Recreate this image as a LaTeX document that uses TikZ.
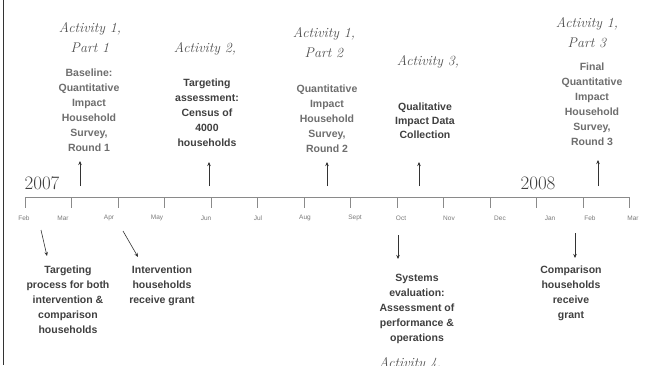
\documentclass[tikz,border=0pt]{standalone}
\usepackage{fontspec}
\newfontfamily\lsans{Liberation Sans}
\usetikzlibrary{arrows.meta}
\definecolor{txtA}{HTML}{6E6E6E}
\definecolor{txtB}{HTML}{404040}
\definecolor{actc}{HTML}{505050}
\definecolor{axisc}{HTML}{8A8A8A}
\definecolor{monc}{HTML}{7A7A7A}
\definecolor{arrc}{HTML}{333333}
\tikzset{
  act/.style={font=\fontsize{14}{20}\selectfont\itshape, text=actc, align=center, inner sep=0pt},
  lbl/.style={font=\lsans\bfseries\fontsize{10.5}{15}\selectfont, align=center, inner sep=0pt, anchor=north},
  mon/.style={font=\lsans\fontsize{6.5}{7}\selectfont, text=monc, inner sep=0pt},
  yr/.style={font=\fontsize{19}{22}\selectfont, text=txtB, inner sep=0pt},
  evarrow/.style={draw=arrc, line width=0.6pt, -{Stealth[length=4pt,width=3.5pt]}},
  axis/.style={draw=axisc, line width=0.8pt},
}
\begin{document}
\begin{tikzpicture}[x=1pt,y=-1pt]
\useasboundingbox (0,0) rectangle (649,365);
\clip (0,0) rectangle (649,365);
\fill[white] (0,0) rectangle (649,365);
\draw[line width=1pt, draw=arrc] (3.5,0) -- (3.5,365);

% timeline
\coordinate (tlS) at (25,197);
\coordinate (tlE) at (629.5,197);
\draw[axis] (tlS) -- (tlE);
\foreach \i in {0,...,13} {
  \draw[axis] ({25+46.5*\i},197) -- ({25+46.5*\i},208);
}
\foreach \x/\m [count=\k] in {24/Feb,63/Mar,109/Apr,157/May,206/Jun,258/Jul,305/Aug,355/Sept,401/Oct,449/Nov,500/Dec,550/Jan,590/Feb,633/Mar} {
  \node[mon] (m\k) at (\x,218) {\m};
}
\node[yr] (y2007) at (42,183) {2007};
\node[yr] (y2008) at (538,183) {2008};

% activity titles
\node[act] (a1p1) at (90,38) {Activity 1,\\Part 1};
\node[act] (a2) at (205,49) {Activity 2,};
\node[act] (a1p2) at (324,43) {Activity 1,\\Part 2};
\node[act] (a3) at (428,62) {Activity 3,};
\node[act] (a1p3) at (587,33) {Activity 1,\\Part 3};
\node[act, anchor=base] (a4) at (410,367) {Activity 4,};

% upper labels
\node[lbl, text=txtA] (base) at (89,68.5) {Baseline:\\Quantitative\\Impact\\Household\\Survey,\\Round 1};
\node[lbl, text=txtB] (targ) at (207,78.5) {Targeting\\assessment:\\Census of\\4000\\households};
\node[lbl, text=txtA] (q2) at (327,84.5) {Quantitative\\Impact\\Household\\Survey,\\Round 2};
\node[lbl, text=txtB, font=\lsans\bfseries\fontsize{10.5}{14}\selectfont] (qual) at (425,102.5) {Qualitative\\Impact Data\\Collection};
\node[lbl, text=txtA] (final) at (592,62.5) {Final\\Quantitative\\Impact\\Household\\Survey,\\Round 3};

% lower labels
\node[lbl, text=txtB] (tproc) at (68,265.5) {Targeting\\process for both\\intervention \&\\comparison\\households};
\node[lbl, text=txtB] (inter) at (162,265.5) {Intervention\\households\\receive grant};
\node[lbl, text=txtB] (sys) at (417,273.5) {Systems\\evaluation:\\Assessment of\\performance \&\\operations};
\node[lbl, text=txtB] (comp) at (571,265.5) {Comparison\\households\\receive\\grant};

% arrow end points
\coordinate (u1s) at (80,186);  \coordinate (u1e) at (80,161);
\coordinate (u2s) at (209,186); \coordinate (u2e) at (209,162);
\coordinate (u3s) at (327,186); \coordinate (u3e) at (327,162);
\coordinate (u4s) at (419,186); \coordinate (u4e) at (419,162);
\coordinate (u5s) at (598,186); \coordinate (u5e) at (598,160);
\coordinate (d1s) at (41,230);  \coordinate (d1e) at (47,256);
\coordinate (d2s) at (123,231); \coordinate (d2e) at (138,257);
\coordinate (d3s) at (398,235); \coordinate (d3e) at (398,259);
\coordinate (d4s) at (575,233); \coordinate (d4e) at (575,258);

\foreach \a in {u1,u2,u3,u4,u5,d1,d2,d3,d4} {
  \draw[evarrow] (\a s) -- (\a e);
}
\end{tikzpicture}
\end{document}
